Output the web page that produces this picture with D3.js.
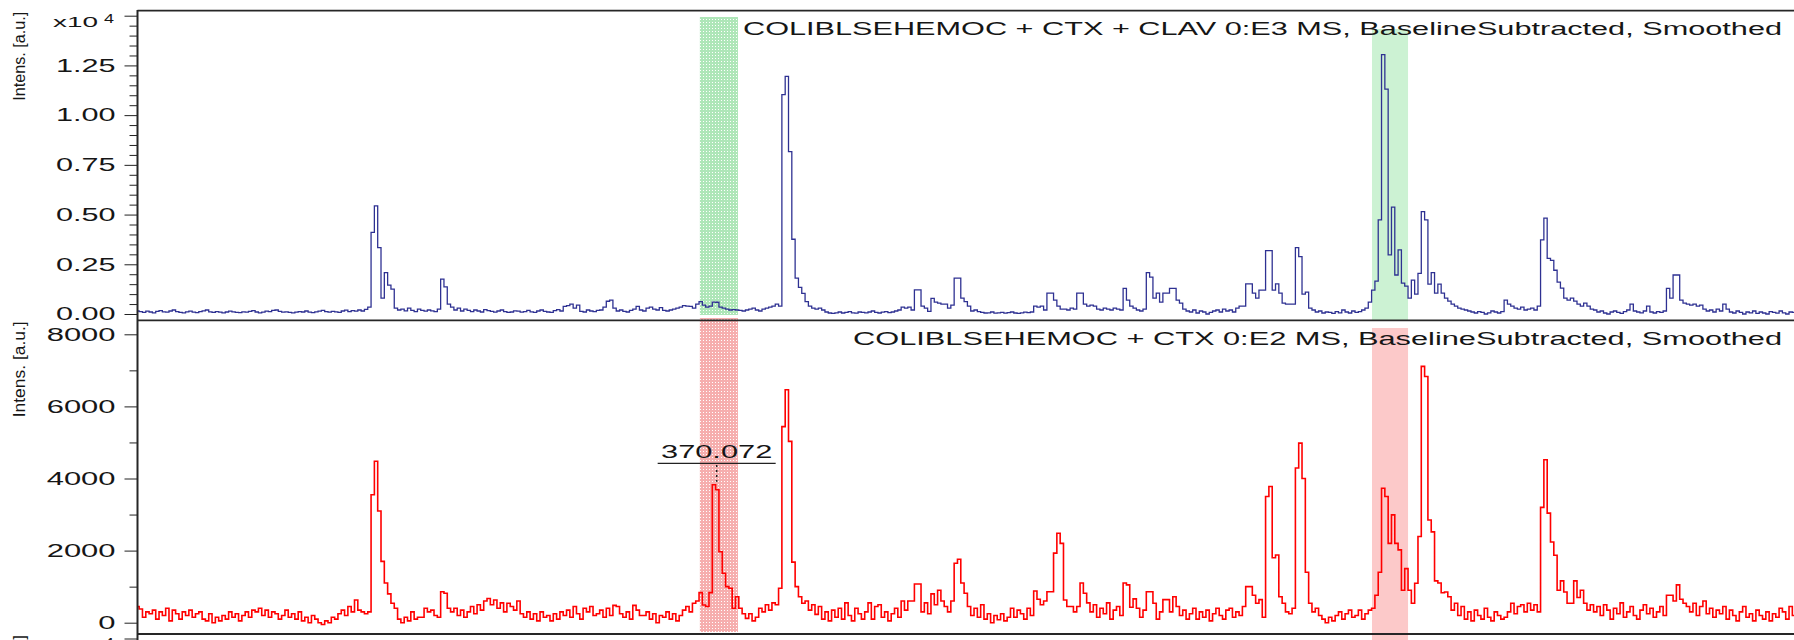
<!DOCTYPE html>
<html>
<head>
<meta charset="utf-8">
<style>
  body { margin:0; background:#fff; }
  svg { display:block; }
  text { font-family:"Liberation Sans", Arial, sans-serif; fill:#161616; }
</style>
</head>
<body>
<script src="https://cdn.jsdelivr.net/npm/d3@7"></script>
<script>

// m/z axis: one sample every 0.4 from 300 to 500
const mzStart = 300, mzStep = 0.4;

// COLIBLSEHEMOC + CTX + CLAV, intensity counts
const spectrumClav = [
  150,120,80,140,100,60,130,170,110,90,150,200,120,80,60,110,140,90,70,120,
  160,200,110,80,120,90,60,100,140,110,80,70,110,90,130,170,100,60,90,140,
  120,180,200,130,90,110,80,60,90,120,100,150,90,70,110,140,180,120,90,130,
  110,80,150,190,120,170,140,200,150,230,350,4100,5440,3340,800,2080,1450,1250,300,200,
  250,160,300,180,120,250,180,140,200,160,120,250,1750,1360,500,350,200,300,150,250,
  180,120,200,150,100,220,170,130,90,150,200,120,80,100,160,140,90,120,180,110,
  80,150,200,130,100,80,170,220,150,380,420,500,300,450,130,100,200,150,120,180,
  200,350,640,700,300,150,200,130,100,180,250,380,200,150,300,350,250,200,320,180,
  150,200,250,300,350,420,400,380,300,500,620,450,350,400,600,590,350,300,250,200,
  220,200,180,150,200,250,300,200,150,250,300,350,400,500,400,11030,11950,8170,3760,1800,
  1340,1040,620,400,300,250,300,200,100,50,30,60,100,50,80,120,60,40,100,80,
  60,100,150,80,50,90,120,70,100,150,200,350,300,350,200,1210,1210,400,300,130,
  790,600,550,500,500,300,450,1800,1800,800,620,400,150,200,120,80,50,60,100,40,
  60,80,40,70,100,50,30,60,90,70,100,400,350,400,200,1050,1050,700,400,250,
  250,200,300,250,1050,1050,500,400,450,400,250,200,300,250,200,300,250,200,1290,700,
  400,300,200,150,250,2080,1850,800,1050,600,1050,1050,1290,1290,700,550,250,150,100,200,
  50,150,100,0,80,150,200,100,250,150,200,100,300,400,400,1510,1510,1050,800,1200,
  1200,3190,3190,1200,1510,1050,550,500,500,500,3340,2890,1000,1100,300,200,100,150,50,100,
  80,30,120,60,200,100,50,150,80,120,200,300,600,1200,1650,4730,13040,11310,2970,5370,
  1960,3220,1550,1400,800,1700,1000,2040,5150,4730,1500,2080,1050,1500,1050,800,650,500,400,300,
  250,200,150,100,50,120,80,0,60,150,100,50,120,700,500,400,300,250,350,200,
  250,300,200,400,3730,4820,2800,2700,2200,1600,1300,800,700,800,650,500,400,550,400,250,
  200,100,150,50,0,100,150,80,30,120,200,500,150,100,60,150,400,100,50,120,
  80,150,1290,800,1960,1960,700,550,500,450,500,400,450,250,150,200,100,250,150,500,
  250,100,50,150,80,0,100,60,150,30,100,50,0,120,80,40,150,60,0,100,
  80
];

// COLIBLSEHEMOC + CTX, intensity counts
const spectrumCtx = [
  450,380,150,300,250,350,100,300,200,400,50,350,250,100,300,200,350,150,250,300,
  100,50,250,0,150,50,200,100,300,150,250,50,200,300,150,350,300,400,200,350,
  150,300,250,100,200,350,150,250,100,300,50,150,0,200,100,0,-50,50,0,150,
  100,250,350,200,450,300,630,350,300,250,300,3550,4480,3100,1700,1100,800,540,400,100,
  0,150,50,300,100,150,150,400,300,350,200,150,860,815,400,300,400,200,350,150,
  300,450,250,500,350,600,670,500,630,400,550,300,540,450,350,600,250,150,300,100,
  250,50,300,150,200,50,250,100,300,200,350,150,450,250,100,400,300,450,200,250,
  350,150,400,200,480,450,250,150,300,100,480,350,200,200,300,100,250,0,200,150,
  300,100,250,50,200,350,450,300,540,600,835,490,450,835,3825,3690,1970,1370,1000,955,
  400,720,400,250,120,250,50,150,400,300,500,350,550,500,955,5440,6460,5030,1680,1000,
  720,540,600,350,500,230,450,100,300,50,350,150,400,100,550,200,50,400,250,100,
  300,550,100,450,500,150,300,50,250,400,150,600,350,600,600,1075,1075,300,550,250,
  800,500,900,600,450,300,600,1650,1760,1100,815,450,200,400,150,500,100,250,0,200,
  80,250,50,150,400,150,350,250,100,400,200,880,650,500,600,860,860,1930,2480,2200,
  630,450,450,300,450,1100,815,550,300,500,150,400,250,550,100,350,450,200,1100,1050,
  430,660,400,150,350,860,860,540,100,300,640,640,300,720,450,200,350,100,250,400,
  100,300,150,350,50,250,400,200,100,350,400,150,300,200,450,1000,1000,760,540,640,
  150,3500,3780,1800,1880,720,540,300,250,400,4290,4980,4000,1400,540,300,400,200,100,0,
  150,50,200,300,100,250,350,150,200,350,100,250,350,400,760,1400,3730,3500,2200,2990,
  2200,2020,900,1500,900,540,1094,2390,7110,6830,2850,2520,1160,1100,830,850,720,350,540,200,
  450,100,300,50,350,200,100,400,150,50,300,200,100,150,300,540,250,450,500,300,
  540,350,500,300,3200,4520,3040,2240,1870,900,1160,850,540,540,1160,700,900,540,350,500,
  300,450,200,500,350,100,400,250,550,150,300,450,200,100,350,500,250,400,150,300,
  450,200,760,760,600,1050,650,540,450,300,540,200,450,600,250,400,150,350,250,450,
  100,350,200,50,300,450,150,250,50,350,200,100,300,50,250,150,400,300,100,450,
  200
];

const titles = [
  "COLIBLSEHEMOC + CTX + CLAV 0:E3 MS, BaselineSubtracted, Smoothed",
  "COLIBLSEHEMOC + CTX 0:E2 MS, BaselineSubtracted, Smoothed"
];
const clavTicks = [0, 2500, 5000, 7500, 10000, 12500, 15000];
const ctxTicks = [0, 2000, 4000, 6000, 8000];
const hatchBand = [367.9, 372.5];   // m/z range, dotted band
const shadeBand = [449.05, 453.4];  // m/z range, solid band
const peakMz = 370.072;

// ---------------------------------------------------------------
const W = 1794, H = 640, left = 137.5;
const x = d3.scaleLinear().domain([300, 500]).range([left, W]);

const svg = d3.select("body").append("svg").attr("width", W).attr("height", H);
const defs = svg.append("defs");

function hatch(id, color) {
  const p = defs.append("pattern").attr("id", id)
    .attr("width", 3).attr("height", 3).attr("patternUnits", "userSpaceOnUse");
  p.append("rect").attr("width", 3).attr("height", 3).attr("fill", color);
  p.append("rect").attr("x", 1).attr("y", 1).attr("width", 1).attr("height", 1).attr("fill", "#fff");
}
hatch("hatchGreen", "#aee6b8");
hatch("hatchRed", "#f6aeae");

// digit-wide stretch like the original bitmap font
function stretch(s) {
  const dots = (s.match(/[.,:]/g) || []).length;
  return (s.length - dots) * 17.2 + dots * 8;
}

function expLabel(g, yTick) {
  const t = g.append("text").attr("x", 53).attr("y", yTick + 11.6);
  t.append("tspan").style("font-size", "15.5px").attr("textLength", 45)
    .attr("lengthAdjust", "spacingAndGlyphs").text("x10");
  t.append("tspan").attr("x", 104).attr("dy", -4).style("font-size", "13.5px")
    .attr("textLength", 10).attr("lengthAdjust", "spacingAndGlyphs").text("4");
}

function yTitle(g, top, len) {
  g.append("text")
    .attr("transform", `translate(25,${top}) rotate(-90)`)
    .attr("text-anchor", "end")
    .style("font-size", "16px")
    .attr("textLength", len).attr("lengthAdjust", "spacingAndGlyphs")
    .text("Intens. [a.u.]");
}

const panels = [
  { top: 10.7, bottom: 320.3,
    y: d3.scaleLinear().domain([0, 15000]).range([314, 15.7]),
    data: spectrumClav, color: "#2e3192", width: 1.3,
    title: titles[0], titleX: 743, titleLen: 1039,
    major: clavTicks, minorStep: 500,
    fmt: v => v === 15000 ? "" : (v / 1e4).toFixed(2),
    exp: true, hatchFill: "url(#hatchGreen)", hatchY: [17, 315],
    shade: "#ccf2d3", shadeY: [29, 320], labelLen: 89 },
  { top: 320.3, bottom: 634,
    y: d3.scaleLinear().domain([0, 8000]).range([622.7, 334.3]),
    data: spectrumCtx, color: "#ff0000", width: 1.6,
    title: titles[1], titleX: 853, titleLen: 929,
    major: ctxTicks, minorStep: 1000,
    fmt: v => String(v),
    exp: false, hatchFill: "url(#hatchRed)", hatchY: [318, 632],
    shade: "#fcc9c9", shadeY: [328, 640], labelLen: 96 }
];

panels.forEach((p, k) => {
  const g = svg.append("g");

  // highlighted m/z windows
  g.append("rect")
    .attr("x", x(hatchBand[0])).attr("width", x(hatchBand[1]) - x(hatchBand[0]))
    .attr("y", p.hatchY[0]).attr("height", p.hatchY[1] - p.hatchY[0])
    .attr("fill", p.hatchFill);
  g.append("rect")
    .attr("x", x(shadeBand[0])).attr("width", x(shadeBand[1]) - x(shadeBand[0]))
    .attr("y", p.shadeY[0]).attr("height", p.shadeY[1] - p.shadeY[0])
    .attr("fill", p.shade);

  // spectrum
  defs.append("clipPath").attr("id", "clip" + k)
    .append("rect").attr("x", left).attr("y", p.top)
    .attr("width", W - left).attr("height", p.bottom - p.top);

  const line = d3.line()
    .x((d, i) => x(mzStart + i * mzStep))
    .y(d => p.y(d))
    .curve(d3.curveStep);

  g.append("path")
    .datum(p.data)
    .attr("clip-path", "url(#clip" + k + ")")
    .attr("fill", "none")
    .attr("stroke", p.color)
    .attr("stroke-width", p.width)
    .attr("d", line);

  // minor + major ticks
  const minors = d3.range(0, p.y.domain()[1] + 1, p.minorStep).filter(v => !p.major.includes(v));
  g.append("g").attr("transform", `translate(${left},0)`)
    .style("color", "#222")
    .call(d3.axisLeft(p.y).tickValues(minors).tickSize(8).tickFormat(""))
    .call(a => a.select(".domain").remove());

  const ax = g.append("g").attr("transform", `translate(${left},0)`)
    .style("color", "#222")
    .attr("font-size", null).attr("font-family", null)
    .call(d3.axisLeft(p.y).tickValues(p.major).tickSize(13).tickPadding(9).tickFormat(p.fmt))
    .call(a => a.select(".domain").remove());
  ax.selectAll(".tick text")
    .style("font-size", "18px")
    .attr("fill", "#161616")
    .attr("textLength", function() { return stretch(d3.select(this).text()) || null; })
    .attr("lengthAdjust", "spacingAndGlyphs");

  if (p.exp) expLabel(g, p.y(15000));

  yTitle(g, p.top + 1, p.labelLen);

  // spectrum title
  g.append("text")
    .attr("x", p.titleX).attr("y", p.top + 24.3)
    .style("font-size", "18px")
    .attr("textLength", p.titleLen).attr("lengthAdjust", "spacingAndGlyphs")
    .text(p.title);
});

// third spectrum, only its top edge is in frame
const g3 = svg.append("g");
g3.append("line").attr("x1", left - 13).attr("x2", left).attr("y1", 639).attr("y2", 639)
  .attr("stroke", "#222");
expLabel(g3, 639);
yTitle(g3, 635, 92);

// frames
[10.7, 320.3, 634].forEach(yy => {
  svg.append("line").attr("x1", left).attr("x2", W).attr("y1", yy).attr("y2", yy)
    .attr("stroke", "#262626").attr("stroke-width", 1.8);
});
svg.append("line").attr("x1", left).attr("x2", left).attr("y1", 10).attr("y2", H)
  .attr("stroke", "#262626").attr("stroke-width", 2);

// peak annotation on the CTX spectrum
const yCtx = panels[1].y;
const peakIdx = Math.round((peakMz - mzStart) / mzStep) - 1;
const px = x(peakMz) - 1.2;
const ann = svg.append("g");
ann.append("text").attr("x", px).attr("y", 458)
  .attr("text-anchor", "middle").style("font-size", "18px")
  .attr("textLength", stretch(String(peakMz))).attr("lengthAdjust", "spacingAndGlyphs")
  .text(String(peakMz));
ann.append("line").attr("x1", px - 59).attr("x2", px + 59).attr("y1", 463.3).attr("y2", 463.3)
  .attr("stroke", "#222").attr("stroke-width", 1.3);
ann.append("line").attr("x1", px).attr("x2", px)
  .attr("y1", 465).attr("y2", yCtx(spectrumCtx[peakIdx]) - 3)
  .attr("stroke", "#222").attr("stroke-width", 1.5).attr("stroke-dasharray", "2,3");

</script>
</body>
</html>
